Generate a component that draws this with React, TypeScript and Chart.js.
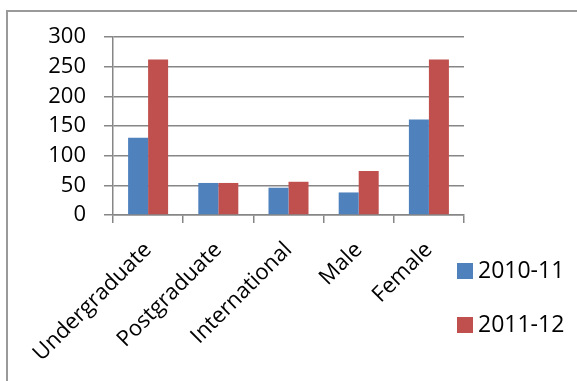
import React, { useEffect, useRef } from "react";
import { Chart, registerables } from "chart.js";

Chart.register(...registerables);

const categories = ["Undergraduate", "Postgraduate", "International", "Male", "Female"];
const series2010 = [130, 54, 46, 38, 161];
const series2011 = [262, 54, 56, 74, 262];
const seriesLabels = ["2010-11", "2011-12"];
const yTicks = [0, 50, 100, 150, 200, 250, 300];

const BLUE = "#4F81BD";
const RED = "#C0504D";
const GRID = "#868686";
const FONT = "'Open Sans', sans-serif";

const framePlugin = {
  id: "frame",
  beforeDraw(chart: any) {
    const ctx = chart.ctx;
    ctx.save();
    ctx.fillStyle = "#ffffff";
    ctx.fillRect(0, 0, chart.width, chart.height);
    ctx.strokeStyle = "#9a9a9a";
    ctx.lineWidth = 2;
    ctx.beginPath();
    ctx.moveTo(7, chart.height);
    ctx.lineTo(7, 11);
    ctx.lineTo(chart.width, 11);
    ctx.stroke();
    ctx.restore();
  },
};

const legendPlugin = {
  id: "customLegend",
  afterDraw(chart: any) {
    const ctx = chart.ctx;
    ctx.save();
    const ys = [263, 317];
    chart.data.datasets.forEach((ds: any, i: number) => {
      const y = ys[i];
      ctx.fillStyle = ds.backgroundColor;
      ctx.fillRect(457, y, 16, 16);
      ctx.fillStyle = "#000";
      ctx.font = `23px ${FONT}`;
      ctx.textBaseline = "middle";
      ctx.textAlign = "left";
      ctx.fillText(ds.label, 478, y + 8);
    });
    ctx.restore();
  },
};

export default function App() {
  const ref = useRef<HTMLCanvasElement>(null);
  useEffect(() => {
    if (!ref.current) return;
    const chart = new Chart(ref.current, {
      type: "bar",
      data: {
        labels: categories,
        datasets: [
          { label: seriesLabels[0], data: series2010, backgroundColor: BLUE, borderWidth: 0 },
          { label: seriesLabels[1], data: series2011, backgroundColor: RED, borderWidth: 0 },
        ],
      },
      options: {
        responsive: false,
        animation: false,
        layout: { padding: { left: 0, top: 37, right: 113, bottom: 0 } },
        datasets: { bar: { categoryPercentage: 0.57, barPercentage: 1 } },
        plugins: { legend: { display: false }, tooltip: { enabled: false }, title: { display: false } },
        scales: {
          x: {
            grid: { display: true, drawOnChartArea: false, drawTicks: true, tickLength: 8, color: GRID, lineWidth: 1.5 },
            border: { display: true, color: GRID, width: 1.5 },
            ticks: {
              color: "#000",
              font: { family: FONT, size: 22 },
              minRotation: 45,
              maxRotation: 45,
              padding: 14,
              autoSkip: false,
            },
            afterFit(s: any) {
              s.height = 381 - 215;
            },
          },
          y: {
            min: 0,
            max: 300,
            afterBuildTicks(s: any) {
              s.ticks = yTicks.map((v) => ({ value: v }));
            },
            grid: { color: GRID, lineWidth: 1.5, drawTicks: true, tickLength: 9 },
            border: { display: true, color: GRID, width: 1.5 },
            ticks: { color: "#000", font: { family: FONT, size: 22 }, padding: 18 },
            afterFit(s: any) {
              s.width = 113;
            },
          },
        },
      },
      plugins: [framePlugin, legendPlugin],
    });
    return () => chart.destroy();
  }, []);
  return (
    <div style={{ position: "absolute", left: 0, top: 0, width: 577, height: 381 }}>
      <canvas ref={ref} width={577} height={381} style={{ width: 577, height: 381, display: "block" }} />
    </div>
  );
}
